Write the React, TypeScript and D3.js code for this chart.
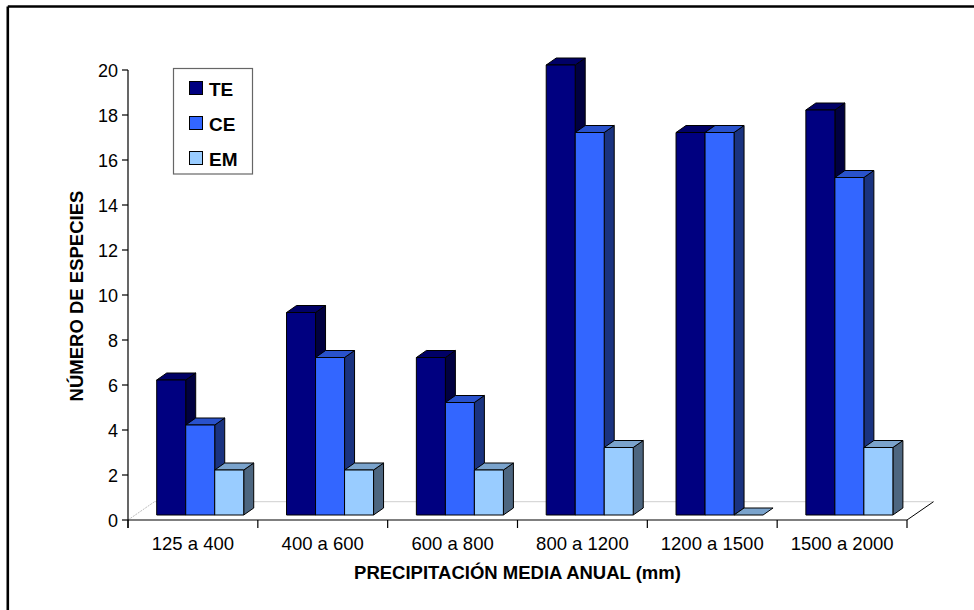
import React from "react";
import * as d3 from "d3";

// Rainfall classes (mm) and species counts per group
const categories = ["125 a 400", "400 a 600", "600 a 800", "800 a 1200", "1200 a 1500", "1500 a 2000"];
const seriesNames = ["TE", "CE", "EM"];
const valuesTE = [6, 9, 7, 20, 17, 18];
const valuesCE = [4, 7, 5, 17, 17, 15];
const valuesEM = [2, 2, 2, 3, 0, 3];
const yTicks = [0, 2, 4, 6, 8, 10, 12, 14, 16, 18, 20];

const seriesValues = [valuesTE, valuesCE, valuesEM];
const frontColors = ["#000080", "#3366FF", "#99CCFF"];

const W = 974;
const H = 610;
const FONT = "'Liberation Sans', Arial, Helvetica, sans-serif";

// Oblique projection: full floor depth and the slab the columns occupy
const floorDepth = { dx: 26.5, dy: -18.3 };
const barShift = { dx: 7.3, dy: -5 };
const barDepth = { dx: 10, dy: -7 };

function shade(c: string, k: number) {
  const col = d3.rgb(c);
  return d3.rgb(col.r * k, col.g * k, col.b * k).formatHex();
}

export default function App() {
  const x = d3.scaleBand<string>().domain(categories).range([128, 907]).paddingInner(0).paddingOuter(0);
  const xs = d3.scaleBand<string>().domain(seriesNames).range([0, x.bandwidth()]).paddingInner(0).paddingOuter(0.738);
  const y = d3.scaleLinear().domain([0, 20]).range([520, 70]);

  const x0 = 128;
  const x1 = 907;
  const y0 = y(0);

  const bars: React.ReactNode[] = [];
  categories.forEach((cat, ci) => {
    seriesNames.forEach((s, si) => {
      const v = seriesValues[si][ci];
      const left = (x(cat) as number) + (xs(s) as number) + barShift.dx;
      const w = xs.bandwidth();
      const top = y(v) + barShift.dy;
      const bottom = y0 + barShift.dy;
      const { dx, dy } = barDepth;
      const front = frontColors[si];
      const topPts = [
        [left, top],
        [left + dx, top + dy],
        [left + w + dx, top + dy],
        [left + w, top],
      ];
      const sidePts = [
        [left + w, top],
        [left + w + dx, top + dy],
        [left + w + dx, bottom + dy],
        [left + w, bottom],
      ];
      bars.push(
        <g key={`${cat}-${s}`} stroke="#000" strokeWidth={1} strokeLinejoin="round">
          {v > 0 && <polygon points={sidePts.map((p) => p.join(",")).join(" ")} fill={shade(front, 0.5)} />}
          <polygon points={topPts.map((p) => p.join(",")).join(" ")} fill={shade(front, 0.8)} />
          {v > 0 && <rect x={left} y={top} width={w} height={bottom - top} fill={front} />}
        </g>
      );
    });
  });

  const boundaries = [...categories.map((c) => x(c) as number), x1];

  return (
    <svg
      width={W}
      height={H}
      viewBox={`0 0 ${W} ${H}`}
      style={{ position: "absolute", left: 0, top: 0, background: "#fff" }}
      fontFamily={FONT}
    >
      <rect x={0} y={0} width={W} height={H} fill="#fff" />
      {/* frame */}
      <line x1={7.8} y1={6.5} x2={W} y2={6.5} stroke="#000" strokeWidth={2.6} />
      <line x1={7.8} y1={6.5} x2={7.8} y2={H} stroke="#000" strokeWidth={2.6} />

      {/* floor */}
      <line x1={x0 + floorDepth.dx} y1={y0 + floorDepth.dy} x2={x1 + floorDepth.dx} y2={y0 + floorDepth.dy} stroke="#cfcfcf" strokeWidth={1} />
      <line x1={x0} y1={y0} x2={x0 + floorDepth.dx} y2={y0 + floorDepth.dy} stroke="#bdbdbd" strokeWidth={1} strokeDasharray="2,1" />
      <line x1={x1} y1={y0} x2={x1 + floorDepth.dx} y2={y0 + floorDepth.dy} stroke="#000" strokeWidth={1} />

      {bars}

      {/* y axis */}
      <line x1={x0} y1={y(20)} x2={x0} y2={y0 + 8} stroke="#000" strokeWidth={1.2} />
      {yTicks.map((t) => (
        <g key={t}>
          <line x1={x0 - 6} y1={y(t)} x2={x0} y2={y(t)} stroke="#000" strokeWidth={1.2} />
          <text x={x0 - 10} y={y(t) + 6.5} textAnchor="end" fontSize={18} fill="#000">
            {t}
          </text>
        </g>
      ))}

      {/* x axis */}
      <line x1={x0} y1={y0} x2={x1} y2={y0} stroke="#000" strokeWidth={1.2} />
      {boundaries.map((b, i) => (
        <line key={i} x1={b} y1={y0} x2={b} y2={y0 + 8} stroke="#000" strokeWidth={1.2} />
      ))}
      {categories.map((c) => (
        <text key={c} x={(x(c) as number) + x.bandwidth() / 2} y={550} textAnchor="middle" fontSize={18.5} fill="#000">
          {c}
        </text>
      ))}

      {/* axis titles */}
      <text x={(x0 + x1) / 2} y={579} textAnchor="middle" fontSize={18.5} fontWeight="bold" fill="#000">
        PRECIPITACIÓN MEDIA ANUAL (mm)
      </text>
      <text
        transform={`translate(83, ${(y(0) + y(20)) / 2 + 1}) rotate(-90)`}
        textAnchor="middle"
        fontSize={18.5}
        fontWeight="bold"
        fill="#000"
      >
        NÚMERO DE ESPECIES
      </text>

      {/* legend */}
      <rect x={173.5} y={68.5} width={79} height={105.5} fill="#fff" stroke="#666" strokeWidth={1.2} />
      {seriesNames.map((s, i) => {
        const cy = 88 + i * 35;
        return (
          <g key={s}>
            <rect x={189.5} y={cy - 6.5} width={13} height={13} fill={frontColors[i]} stroke="#000" strokeWidth={1} />
            <text x={209} y={cy + 7.5} fontSize={19} fontWeight="bold" fill="#000">
              {s}
            </text>
          </g>
        );
      })}
    </svg>
  );
}
